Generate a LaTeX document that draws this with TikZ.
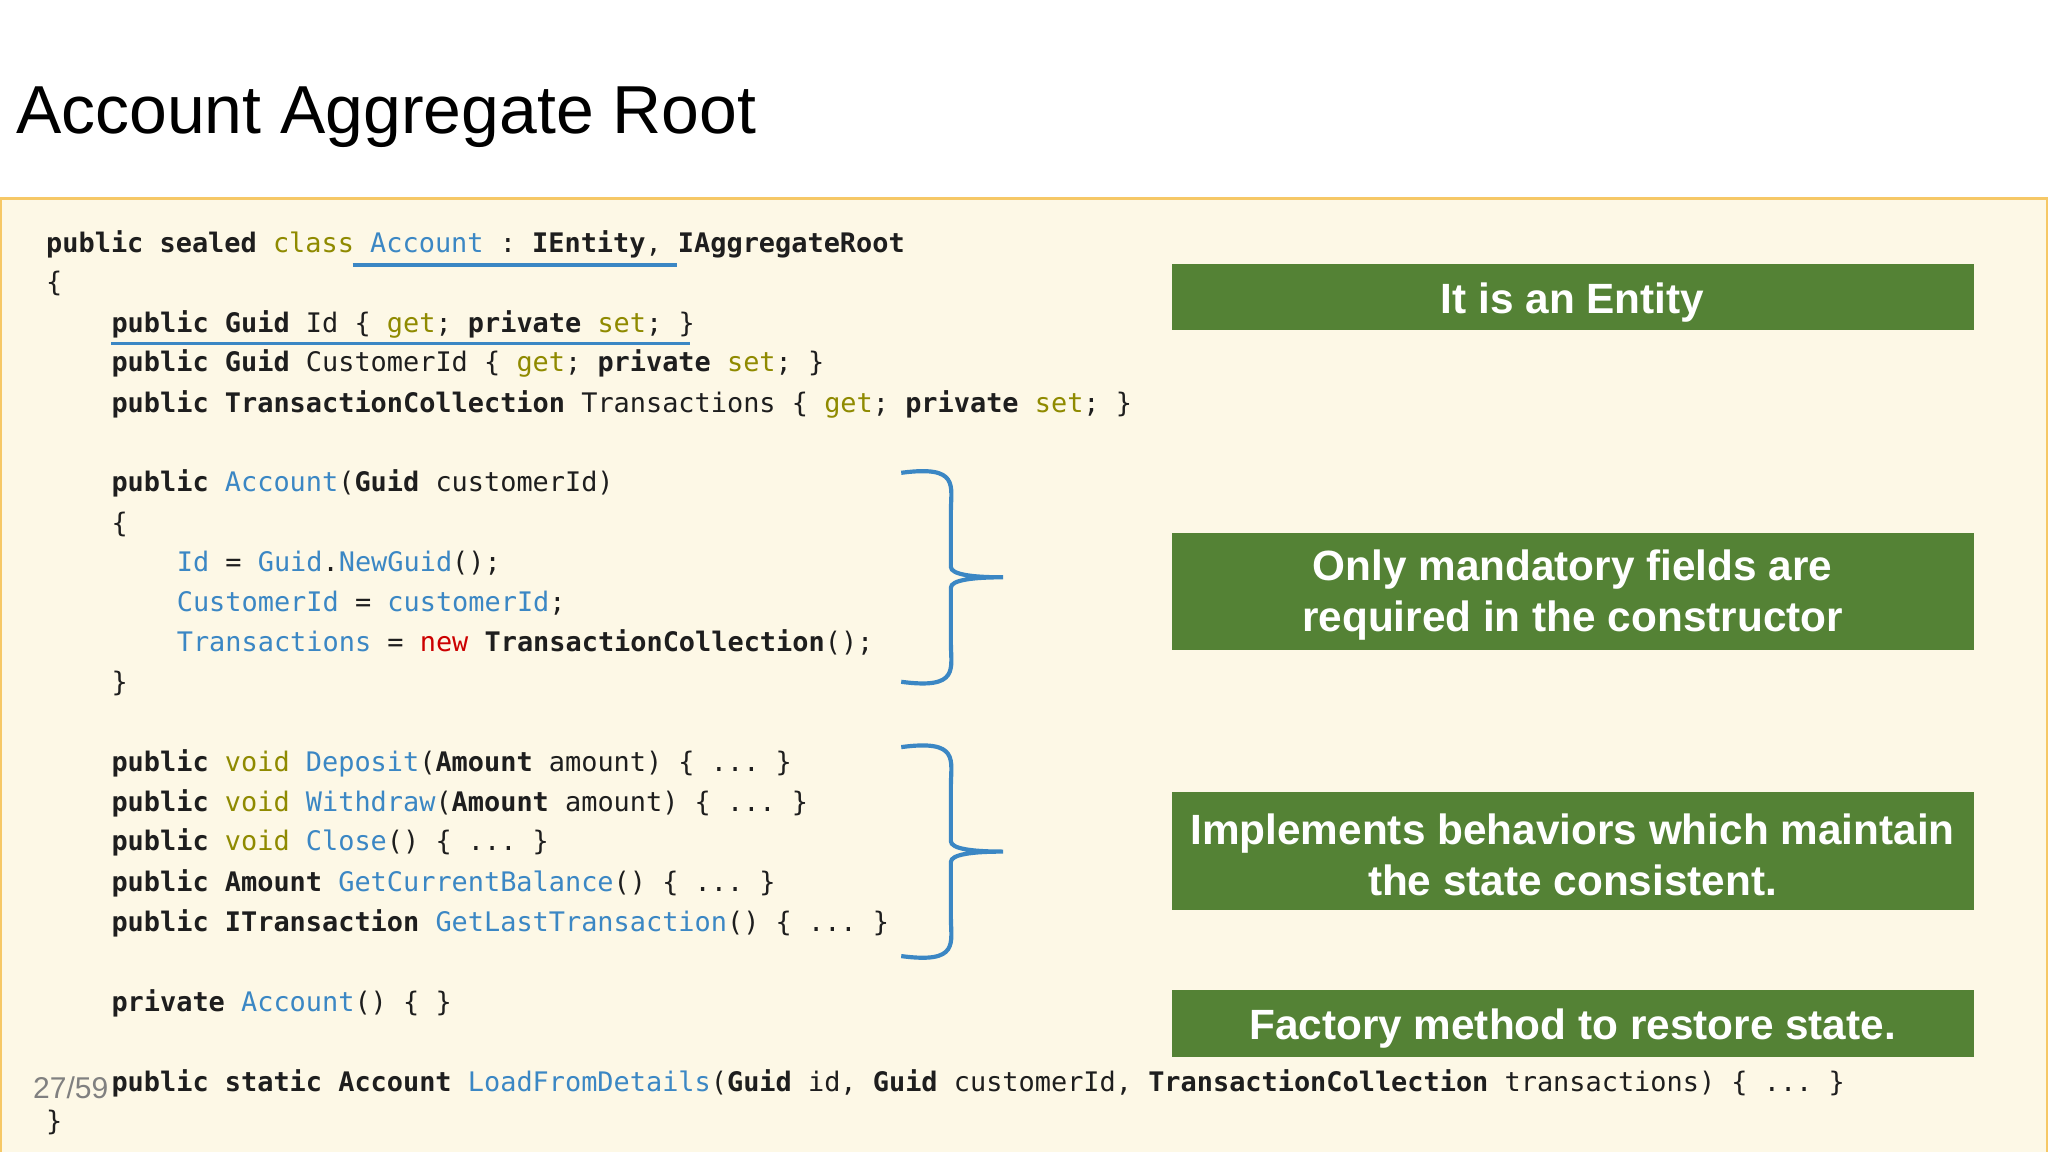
\documentclass[tikz,border=0pt]{standalone}
\usepackage{fontspec}
\setmainfont{Liberation Sans}
\setmonofont{DejaVu Sans Mono}
\definecolor{cream}{HTML}{FDF8E6}
\definecolor{rim}{HTML}{F6C866}
\definecolor{leaf}{HTML}{548235}
\definecolor{olive}{HTML}{8F8A00}
\definecolor{idblue}{HTML}{3B87C4}
\definecolor{ink}{HTML}{1E1E1E}
\newcommand{\kw}[1]{\textbf{#1}}
\newcommand{\ol}[1]{\textcolor{olive}{#1}}
\newcommand{\bl}[1]{\textcolor{idblue}{#1}}
\newcommand{\rd}[1]{\textcolor{red!80!black}{#1}}
\newcommand{\cl}[4]{\node[code] (#1) at (#2,#3+1.5) {#4};}
\newcommand{\brc}[2]{\draw[brace] (690,#1) .. controls (735,#1-6) and (728,#1+10) .. (728,#1+30)
  -- (728,#2-8) .. controls (728,#2-2) and (745,#2) .. (768,#2)
  .. controls (745,#2) and (728,#2+2) .. (728,#2+8)
  -- (728,2*#2-#1-30) .. controls (728,2*#2-#1-10) and (735,2*#2-#1+6) .. (690,2*#2-#1);}

\begin{document}
\begin{tikzpicture}[x=0.5pt,y=-0.5pt,
  code/.style={anchor=base west,inner sep=0pt,font=\ttfamily\fontsize{10.3}{12}\selectfont,text=ink},
  note/.style={fill=leaf,text=white,font=\bfseries\fontsize{16.2}{19.5}\selectfont,align=center,inner sep=0pt,minimum width=307pt},
  one/.style={note,minimum height=25.5pt,text height=12.5pt,text depth=0pt},
  two/.style={note,minimum height=45.5pt},
  brace/.style={draw=idblue,line width=1.6pt},
  uline/.style={draw=idblue,line width=1.3pt}]
  \useasboundingbox (0,0) rectangle (1568,882);
  \fill[cream] (0,152) rectangle (1568,882);
  \draw[rim,line width=1.5pt] (0,882) -- (0,152) -- (1568,152) -- (1568,882);
  \node[anchor=base west,inner sep=0pt,font=\fontsize{26}{30}\selectfont] (title) at (12,102) {Account Aggregate Root};
  % code lines
  \cl{l1}{35}{192}{\kw{public} \kw{sealed} \ol{class} \bl{Account} : \kw{IEntity}, \kw{IAggregateRoot}}
  \cl{l2}{35}{222}{\{}
  \cl{l3}{85}{253}{\kw{public} \kw{Guid} Id \{ \ol{get}; \kw{private} \ol{set}; \}}
  \cl{l4}{85}{283}{\kw{public} \kw{Guid} CustomerId \{ \ol{get}; \kw{private} \ol{set}; \}}
  \cl{l5}{85}{314}{\kw{public} \kw{TransactionCollection} Transactions \{ \ol{get}; \kw{private} \ol{set}; \}}
  \cl{l6}{85}{375}{\kw{public} \bl{Account}(\kw{Guid} customerId)}
  \cl{l7}{85}{406}{\{}
  \cl{l8}{135}{436}{\bl{Id} = \bl{Guid}.\bl{NewGuid}();}
  \cl{l9}{135}{467}{\bl{CustomerId} = \bl{customerId};}
  \cl{l10}{135}{497}{\bl{Transactions} = \rd{new} \kw{TransactionCollection}();}
  \cl{l11}{85}{528}{\}}
  \cl{l12}{85}{589}{\kw{public} \ol{void} \bl{Deposit}(\kw{Amount} amount) \{ ... \}}
  \cl{l13}{85}{620}{\kw{public} \ol{void} \bl{Withdraw}(\kw{Amount} amount) \{ ... \}}
  \cl{l14}{85}{650}{\kw{public} \ol{void} \bl{Close}() \{ ... \}}
  \cl{l15}{85}{681}{\kw{public} \kw{Amount} \bl{GetCurrentBalance}() \{ ... \}}
  \cl{l16}{85}{712}{\kw{public} \kw{ITransaction} \bl{GetLastTransaction}() \{ ... \}}
  \cl{l17}{85}{773}{\kw{private} \bl{Account}() \{ \}}
  \cl{l18}{85}{834}{\kw{public} \kw{static} \kw{Account} \bl{LoadFromDetails}(\kw{Guid} id, \kw{Guid} customerId, \kw{TransactionCollection} transactions) \{ ... \}}
  \cl{l19}{35}{864}{\}}
  \node[anchor=base west,inner sep=0pt,text=gray,font=\fontsize{11.5}{14}\selectfont] (page) at (25,841) {27/59};
  % underlines
  \draw[uline] (270,203) -- (518,203);
  \draw[uline] (85,263) -- (528,263);
  % braces
  \brc{362}{442}
  \brc{572}{652}
  % notes
  \node[one] (entity) at (1204,227.5) {It is an Entity};
  \node[two,minimum height=45pt] (ctor) at (1204,453) {\rule{0pt}{14.5pt}Only mandatory fields are\\required in the constructor};
  \node[two] (behave) at (1204,651.5) {\rule{0pt}{14.5pt}Implements behaviors which maintain\\the state consistent.};
  \node[one] (factory) at (1204,783.5) {Factory method to restore state.};
\end{tikzpicture}
\end{document}
